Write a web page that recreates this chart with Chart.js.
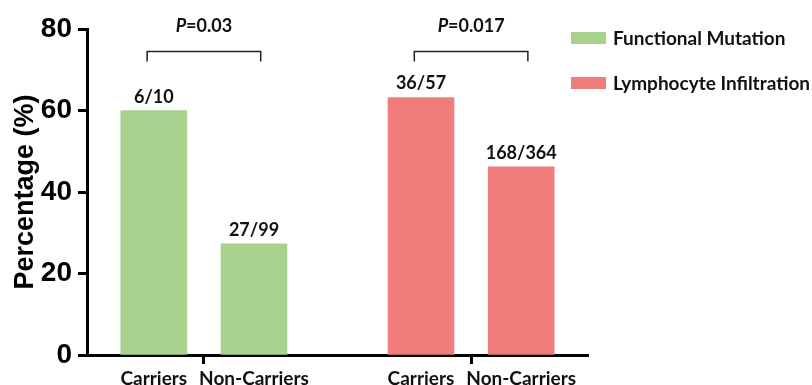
<!DOCTYPE html>
<html>
<head>
<meta charset="utf-8">
<script src="https://cdn.jsdelivr.net/npm/chart.js@4"></script>
<style>
  html, body { margin: 0; padding: 0; background: #fff; }
</style>
</head>
<body>
<canvas id="chart" width="812" height="385"></canvas>
<script>
// data
const categories = ['Carriers', 'Non-Carriers'];
const groupNames = ['Functional Mutation', 'Lymphocyte Infiltration'];
const functionalMutation = [60, 27.3];
const lymphocyteInfiltration = [63.2, 46.2];
const mutationCounts = ['6/10', '27/99'];
const infiltrationCounts = ['36/57', '168/364'];
const pValues = ['0.03', '0.017'];
const yTicks = [0, 20, 40, 60, 80];

// layout on a linear x axis: two groups, each with two bars
const groupCenters = [3.5, 11.5];
const half = 1.5;
const greenFill = '#a9d18e';
const redFill = '#f07c7c';
const labelFont = 'Lato, "Open Sans", sans-serif';

const tickValues = [];
const tickText = {};
groupCenters.forEach(c => {
  tickValues.push(c - half, c, c + half);
  tickText[c - half] = categories[0];
  tickText[c] = '';
  tickText[c + half] = categories[1];
});

const counts = [mutationCounts, infiltrationCounts];

const annotations = {
  id: 'annotations',
  afterDatasetsDraw(chart) {
    const {ctx, chartArea, scales: {x, y}} = chart;
    ctx.save();
    ctx.fillStyle = '#111';
    ctx.textBaseline = 'alphabetic';

    // n/N labels over bars
    ctx.font = 'bold 18px ' + labelFont;
    ctx.textAlign = 'center';
    chart.data.datasets.forEach((ds, i) => {
      chart.getDatasetMeta(i).data.forEach((bar, j) => {
        ctx.fillText(counts[i][j], bar.x, bar.y - 8);
      });
    });

    // brackets and P values
    groupCenters.forEach((c, i) => {
      const x1 = x.getPixelForValue(c - 1.7);
      const x2 = x.getPixelForValue(c + 1.7);
      const xc = x.getPixelForValue(c);
      const yb = Math.round(y.getPixelForValue(74.5)) + 0.5;
      const yl = y.getPixelForValue(72);
      ctx.strokeStyle = '#222';
      ctx.lineWidth = 1.5;
      ctx.beginPath();
      ctx.moveTo(x1, yl);
      ctx.lineTo(x1, yb);
      ctx.lineTo(x2, yb);
      ctx.lineTo(x2, yl);
      ctx.stroke();

      ctx.font = 'italic bold 18px ' + labelFont;
      const wP = ctx.measureText('P').width;
      ctx.font = 'bold 18px ' + labelFont;
      const rest = '=' + pValues[i];
      const wR = ctx.measureText(rest).width;
      const start = xc - (wP + wR) / 2;
      const ty = yb - 20;
      ctx.textAlign = 'left';
      ctx.font = 'italic bold 18px ' + labelFont;
      ctx.fillText('P', start, ty);
      ctx.font = 'bold 18px ' + labelFont;
      ctx.fillText(rest, start + wP, ty);
    });

    // legend
    const lx = chartArea.right - 17;
    [greenFill, redFill].forEach((col, i) => {
      const top = 32 + i * 45;
      ctx.fillStyle = col;
      ctx.fillRect(lx, top, 35, 12);
      ctx.fillStyle = '#111';
      ctx.font = 'bold 19px ' + labelFont;
      ctx.textAlign = 'left';
      ctx.textBaseline = 'middle';
      ctx.fillText(groupNames[i], lx + 42, top + 7);
    });
    ctx.restore();
  }
};

Chart.defaults.color = '#000';

new Chart(document.getElementById('chart'), {
  type: 'bar',
  data: {
    datasets: [{
      label: groupNames[0],
      data: functionalMutation.map((v, j) => ({x: groupCenters[0] + (j ? half : -half), y: v})),
      backgroundColor: greenFill
    }, {
      label: groupNames[1],
      data: lymphocyteInfiltration.map((v, j) => ({x: groupCenters[1] + (j ? half : -half), y: v})),
      backgroundColor: redFill
    }]
  },
  options: {
    responsive: false,
    animation: false,
    grouped: false,
    barThickness: 66,
    layout: { padding: { top: 29, right: 224, left: 0, bottom: 0 } },
    plugins: {
      legend: { display: false },
      tooltip: { enabled: false }
    },
    scales: {
      x: {
        type: 'linear',
        min: 0,
        max: 15,
        offset: false,
        afterFit: s => { s.height = 30; },
        afterBuildTicks: s => { s.ticks = tickValues.map(v => ({value: v})); },
        border: { color: '#000', width: 3 },
        grid: {
          offset: false,
          drawOnChartArea: false,
          tickLength: 9,
          tickWidth: 3,
          tickColor: c => (c.tick && groupCenters.includes(c.tick.value)) ? '#000' : 'rgba(0,0,0,0)'
        },
        ticks: {
          autoSkip: false,
          maxRotation: 0,
          padding: 3,
          color: '#111',
          font: { family: labelFont, weight: 'bold', size: 19 },
          callback: v => tickText[v] !== undefined ? tickText[v] : ''
        }
      },
      y: {
        min: 0,
        max: 80,
        afterFit: s => { s.width = 87; },
        afterBuildTicks: s => { s.ticks = yTicks.map(v => ({value: v})); },
        border: { color: '#000', width: 3 },
        grid: {
          drawOnChartArea: false,
          tickLength: 9,
          tickWidth: 3,
          tickColor: '#000'
        },
        ticks: {
          padding: 6,
          color: '#000',
          font: { family: '"Liberation Sans Narrow", "Liberation Sans", Arial, sans-serif', weight: 'bold', size: 28 }
        },
        title: {
          display: true,
          text: 'Percentage (%)',
          color: '#000',
          padding: { top: 9, bottom: 0 },
          font: { family: '"Liberation Sans", Arial, sans-serif', weight: 'bold', size: 27 }
        }
      }
    }
  },
  plugins: [annotations]
});
</script>
</body>
</html>
